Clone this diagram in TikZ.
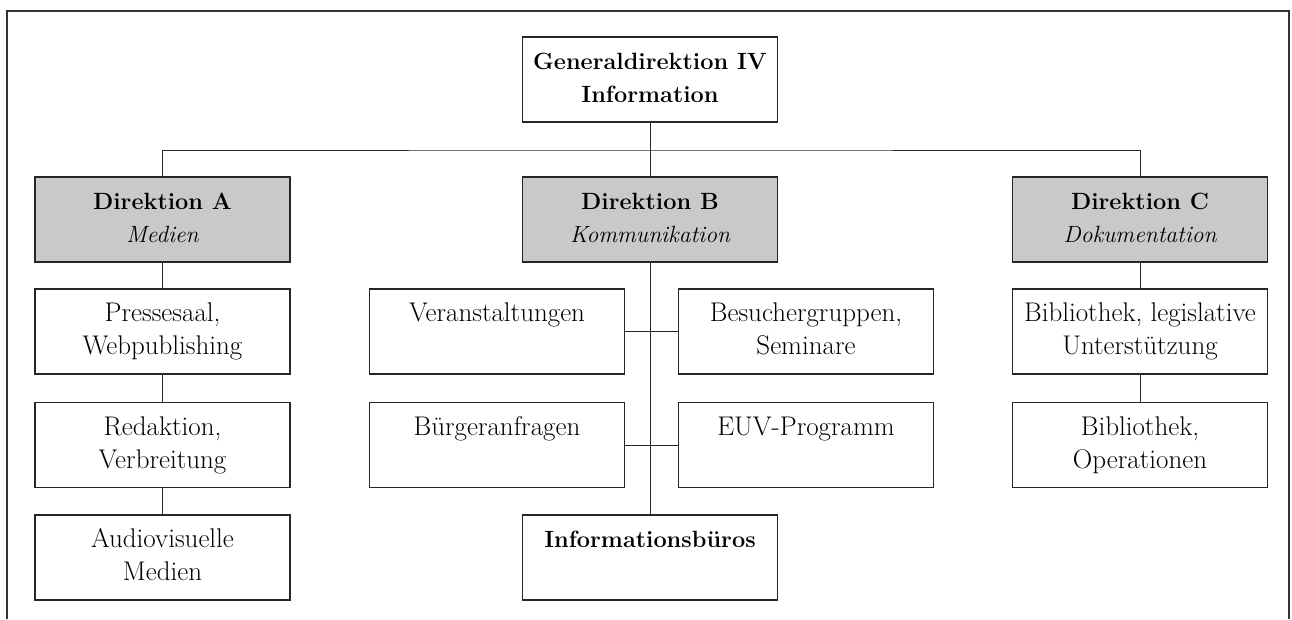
\documentclass[tikz,border=0pt]{standalone}
\usepackage{fontspec}
\setmainfont{Latin Modern Roman}
\newcommand{\bftxt}[1]{{\fontsize{23.5}{33}\selectfont\bfseries #1}}
\newcommand{\ittxt}[1]{{\fontsize{23.5}{33}\selectfont\itshape #1}}
\begin{document}
\begin{tikzpicture}[x=1pt,y=-1pt,
  box/.style={draw=black!85, line width=1.1pt, minimum width=255pt, minimum height=85pt,
    inner sep=0pt, align=center, font=\fontsize{27}{33}\selectfont},
  gbox/.style={box, fill=black!21},
  conn/.style={draw=black!85, line width=1pt},
  frame/.style={draw=black!80, line width=1.6pt}]
\useasboundingbox (0,0) rectangle (1292,619);
\draw[frame] (7,619) -- (7,11) -- (1289,11) -- (1289,619);

\node[box] (gd) at (650,79.5) {\bftxt{Generaldirektion IV}\strut\\\bftxt{Information}\strut};

\node[gbox] (da) at (162.5,219.5) {\bftxt{Direktion A}\strut\\\ittxt{Medien}\strut};
\node[gbox] (db) at (650,219.5) {\bftxt{Direktion B}\strut\\\ittxt{Kommunikation}\strut};
\node[gbox] (dc) at (1140,219.5) {\bftxt{Direktion C}\strut\\\ittxt{Dokumentation}\strut};

\node[box] (a1) at (162.5,331.5) {Pressesaal,\strut\\Webpublishing\strut};
\node[box] (a2) at (162.5,445) {Redaktion,\strut\\Verbreitung\strut};
\node[box] (a3) at (162.5,557.5) {Audiovisuelle\strut\\Medien\strut};

\node[box] (b1) at (497,331.5) {Veranstaltungen\strut\\\strut};
\node[box] (b2) at (806,331.5) {Besuchergruppen,\strut\\Seminare\strut};
\node[box] (b3) at (497,445) {Bürgeranfragen\strut\\\strut};
\node[box] (b4) at (806,445) {EUV-Programm\strut\\\strut};
\node[box] (b5) at (650,557.5) {\bftxt{Informationsbüros}\strut\\\strut};

\node[box] (c1) at (1140,331.5) {Bibliothek, legislative\strut\\Unterstützung\strut};
\node[box] (c2) at (1140,445) {Bibliothek,\strut\\Operationen\strut};

\coordinate (hl) at (650,150);
\draw[conn] (gd.south) -- (hl);
\draw[conn] (da.north) |- (hl) -| (dc.north);
\draw[conn] (hl) -- (db.north);

\draw[conn] (da) -- (a1) (a1) -- (a2) (a2) -- (a3);
\draw[conn] (dc) -- (c1) (c1) -- (c2);
\draw[conn] (db.south) -- (b5.north);
\draw[conn] (b1.east) -- (b2.west);
\draw[conn] (b3.east) -- (b4.west);
\end{tikzpicture}
\end{document}
